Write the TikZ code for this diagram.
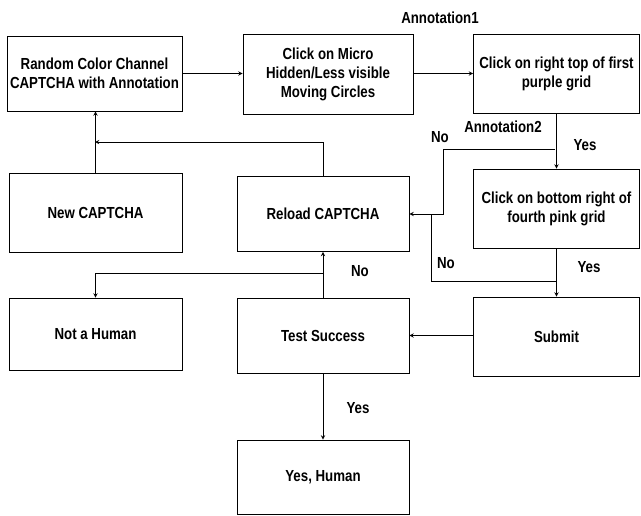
\documentclass[tikz,border=0pt]{standalone}
\usepackage{fontspec}
\setsansfont{Liberation Sans}[FakeStretch=0.83]

\begin{document}
\begin{tikzpicture}[x=1pt, y=-1pt, >=stealth,
      every node/.style = {font=\sffamily\bfseries\fontsize{16}{19}\selectfont},
      block/.style = {draw, line width=0.9pt, align=center, inner sep=1pt},
      flow/.style = {->, line width=0.9pt}]
      \useasboundingbox (0,0) rectangle (641,515);

      \node[block, minimum width=175pt, minimum height=75pt] (rcc) at (94.5,73.5)
        {Random Color Channel\\CAPTCHA with Annotation};
      \node[block, minimum width=170pt, minimum height=80pt] (micro) at (328,74)
        {Click on Micro\\Hidden/Less visible\\Moving Circles};
      \node[block, minimum width=166pt, minimum height=79pt] (first) at (556.5,73.5)
        {Click on right top of first\\purple grid};
      \node[block, minimum width=166pt, minimum height=79pt] (fourth) at (556.5,208.5)
        {Click on bottom right of\\fourth pink grid};
      \node[block, minimum width=173pt, minimum height=79pt] (new) at (95.5,212.5)
        {New CAPTCHA};
      \node[block, minimum width=172pt, minimum height=75pt] (reload) at (323,214)
        {Reload CAPTCHA};
      \node[block, minimum width=173pt, minimum height=72pt] (nothuman) at (95.5,334)
        {Not a Human};
      \node[block, minimum width=172pt, minimum height=75pt] (test) at (323,335.5)
        {Test Success};
      \node[block, minimum width=166pt, minimum height=79pt] (submit) at (556.5,336.5)
        {Submit};
      \node[block, minimum width=172pt, minimum height=74pt] (yeshuman) at (323,477)
        {Yes, Human};

      % labels
      \node (ann1) at (440,18) {Annotation1};
      \node (ann2) at (503,127) {Annotation2};
      \node (no1) at (440,137) {No};
      \node (yes1) at (585,145) {Yes};
      \node (no2) at (446,263) {No};
      \node (yes2) at (589,267) {Yes};
      \node (no3) at (360,271) {No};
      \node (yes3) at (358,408) {Yes};

      \coordinate (back) at (95,142);
      \coordinate (nobr) at (555,149);
      \coordinate (nodown) at (443,214);
      \coordinate (nojoin) at (431,214);
      \coordinate (subjoin) at (556.5,281);
      \coordinate (fail) at (323,273);

      \draw[flow] (rcc.east) -- (rcc.east -| micro.west);
      \draw[flow] (micro.east |- rcc.east) -- (rcc.east -| first.west);
      \draw[flow] (new.north) -- (new.north |- rcc.south);
      \draw[flow] (reload.north) |- (back);
      \draw[flow] (first.south) -- (fourth.north);
      \draw[flow] (nobr) -| (nodown) -- (reload.east);
      \draw[line width=0.9pt] (subjoin) -| (nojoin);
      \draw[flow] (fourth.south) -- (submit.north);
      \draw[flow] (submit.west |- test.east) -- (test.east);
      \draw[flow] (test.north) -- (reload.south);
      \draw[flow] (fail) -| (nothuman.north);
      \draw[flow] (test.south) -- (yeshuman.north);
\end{tikzpicture}
\end{document}
